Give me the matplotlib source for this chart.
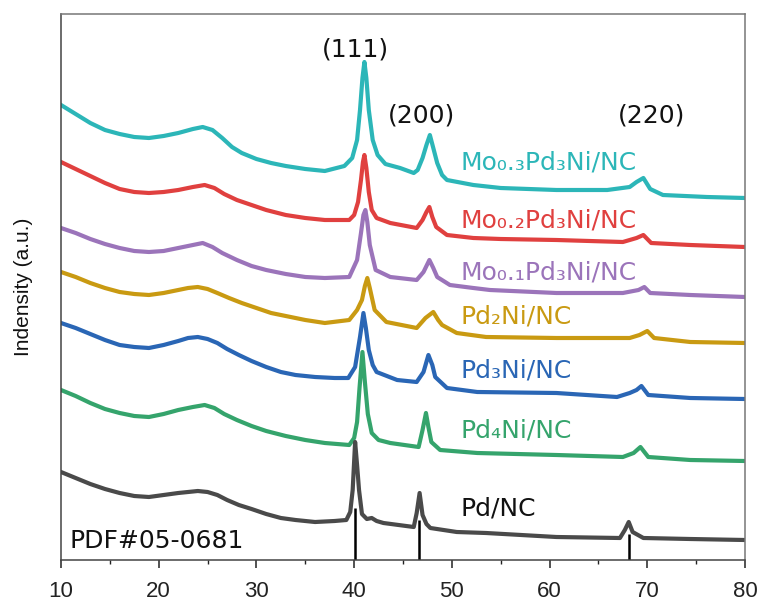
import matplotlib
matplotlib.use("Agg")
import matplotlib.pyplot as plt
from matplotlib.ticker import MultipleLocator

# ---------------- data (2theta in degrees, stacked intensity in a.u.) ----------------
x_mo03 = [10, 11.5, 13, 14.5, 16, 17.5, 19, 20.5, 22, 23.5, 24.5, 25.5, 26.5, 27.5, 28.5, 30, 31.5, 33, 35, 37,
          39.0, 39.8, 40.3, 40.6, 40.85, 41.05, 41.25, 41.5, 41.9, 42.4, 43.2, 44.7, 46.1, 46.5, 47.0, 47.4, 47.75,
          48.1, 48.5, 49.0, 49.5, 52.2, 55.0, 60.7, 65.9, 68.2, 68.9, 69.6, 70.3, 71.6, 76.1, 80]
y_mo03 = [455, 446, 437, 430, 426, 423, 422, 424, 427, 431, 433, 430, 422, 413, 407, 401, 397, 394, 391, 389,
          394, 402, 420, 450, 482, 498, 482, 450, 420, 405, 396, 392, 387, 390, 402, 415, 425,
          412, 397, 385, 380, 375, 372, 370, 370, 373, 378, 382, 371, 365, 363, 362]

x_mo02 = [10, 11.5, 13, 14.5, 16, 17.5, 19, 20.5, 22, 23.5, 24.7, 25.7, 26.7, 28, 29.5, 31, 33, 35, 37,
          39.5, 40.0, 40.4, 40.7, 40.9, 41.05, 41.25, 41.5, 41.8, 42.3, 43.7, 46.4, 47.0, 47.4, 47.7, 48.0, 48.4,
          49.5, 52.2, 55.0, 60.7, 67.5, 68.9, 69.6, 70.4, 74.4, 80]
y_mo02 = [398, 391, 384, 377, 371, 368, 367, 368, 370, 373, 375, 372, 366, 360, 355, 350, 345, 342, 340,
          340, 345, 358, 380, 398, 405, 392, 368, 350, 342, 337, 332, 340, 348, 353, 343, 333,
          325, 322, 321, 320, 318, 322, 325, 317, 315, 313]

x_mo01 = [10, 11.5, 13, 14.5, 16, 17.5, 19, 20.5, 22, 23.5, 24.5, 25.5, 26.5, 28, 29.5, 31, 33, 35, 37,
          39.5, 40.3, 40.7, 40.95, 41.15, 41.35, 41.6, 42.2, 43.7, 46.4, 47.1, 47.7, 48.1, 48.5, 49.8, 52.2,
          53.9, 60.7, 67.5, 69.1, 69.7, 70.3, 74.4, 80]
y_mo01 = [332, 327, 321, 316, 312, 309, 308, 309, 312, 315, 317, 313, 307, 300, 294, 290, 286, 283, 282,
          283, 300, 327, 345, 350, 338, 315, 290, 283, 280, 288, 300, 292, 283, 275, 272,
          270, 267, 267, 270, 273, 267, 265, 263]

x_pd2ni = [10, 11.5, 13, 14.5, 16, 17.5, 19, 20.5, 22, 23, 24, 25, 26, 27.2, 28.5, 30, 31.5, 33, 35, 37,
           39.5, 40.3, 40.8, 41.1, 41.35, 41.6, 42.1, 43.3, 46.4, 47.3, 48.1, 48.6, 49.0, 50.5, 53.5, 60.7,
           68.2, 69.2, 70.0, 70.7, 74.4, 80]
y_pd2ni = [288, 283, 277, 272, 268, 266, 265, 267, 270, 272, 273, 271, 267, 262, 257, 252, 247, 244, 240, 237,
           240, 250, 260, 274, 282, 272, 250, 238, 232, 242, 248, 240, 235, 227, 223, 222,
           222, 225, 229, 222, 218, 217]

x_pd3ni = [10, 11.5, 13, 14.5, 16, 17.5, 19, 20.5, 22, 23, 24, 25, 26, 27, 28.2, 29.5, 31, 32.5, 34, 36, 38,
           39.4, 40.1, 40.6, 40.95, 41.2, 41.5, 41.9, 42.3, 44.4, 46.4, 47.1, 47.6, 48.0, 48.3, 49.5, 52.6,
           60.7, 66.9, 68.2, 68.9, 69.4, 70.1, 74.4, 80]
y_pd3ni = [237, 232, 226, 220, 215, 213, 212, 215, 219, 222, 223, 221, 217, 211, 205, 199, 193, 188, 185, 183, 182,
           182, 193, 223, 247, 232, 210, 195, 188, 180, 178, 188, 205, 195, 183, 172, 168,
           167, 163, 167, 170, 174, 165, 162, 161]

x_pd4ni = [10, 11.5, 13, 14.5, 16, 17.5, 19, 20.5, 22, 23.5, 24.7, 25.7, 26.7, 28, 29.5, 31, 33, 35, 37,
           39.5, 40.0, 40.3, 40.55, 40.85, 41.1, 41.4, 41.8, 42.5, 43.7, 46.6, 47.0, 47.35, 47.6, 47.9, 48.8,
           52.6, 60.7, 67.5, 68.6, 69.3, 70.1, 74.4, 80]
y_pd4ni = [170, 164, 157, 151, 147, 144, 143, 146, 150, 153, 155, 152, 146, 140, 134, 129, 124, 120, 117,
           115, 122, 138, 172, 208, 178, 146, 127, 120, 117, 113, 130, 147, 133, 118, 110,
           107, 105, 103, 107, 113, 103, 100, 99]

x_pd = [10, 11.5, 13, 14.5, 16, 17.5, 19, 20.5, 22, 23, 24, 25, 26, 27, 28.2, 29.5, 31, 32.5, 34, 36, 38,
        39.2, 39.6, 39.85, 40.1, 40.3, 40.5, 40.8, 41.3, 41.8, 42.3, 43.0, 46.1, 46.4, 46.7, 47.0, 47.4, 47.8,
        50.5, 53.5, 60.7, 67.2, 67.7, 68.1, 68.5, 69.6, 74.4, 80]
y_pd = [88, 82, 76, 71, 67, 64, 63, 65, 67, 68, 69, 68, 65, 60, 55, 51, 46, 42, 40, 38, 39,
        40, 48, 70, 118, 95, 70, 46, 41, 42, 39, 37, 33, 47, 67, 45, 36, 32,
        28, 27, 23, 22, 30, 38, 28, 22, 21, 20]

# reference card PDF#05-0681
pdf_pos = [40.1, 46.65, 68.1]
pdf_int = [52, 40, 26]

series_labels = ["Mo\u2080.\u2083Pd\u2083Ni/NC", "Mo\u2080.\u2082Pd\u2083Ni/NC", "Mo\u2080.\u2081Pd\u2083Ni/NC",
                 "Pd\u2082Ni/NC", "Pd\u2083Ni/NC", "Pd\u2084Ni/NC", "Pd/NC"]
label_y = [391, 333, 280, 236, 182, 123, 45]
hkl_labels = ["(111)", "(200)", "(220)"]
hkl_x = [40.1, 46.85, 70.4]
hkl_y = [511, 445, 445]

colors = ["#2cb6b8", "#e0403f", "#9b74ba", "#c99a12", "#2a66b5", "#35a46c", "#4a4a4a"]
label_colors = colors[:6] + ["#111111"]

xs = [x_mo03, x_mo02, x_mo01, x_pd2ni, x_pd3ni, x_pd4ni, x_pd]
ys = [y_mo03, y_mo02, y_mo01, y_pd2ni, y_pd3ni, y_pd4ni, y_pd]

# ---------------- figure ----------------
fig = plt.figure(figsize=(7.6, 6.06), dpi=100)
ax = fig.add_axes([61 / 760, 1 - 560 / 606, (745 - 61) / 760, (560 - 14) / 606])

for x, y, c in zip(xs, ys, colors):
    ax.plot(x, y, color=c, lw=3.0, solid_joinstyle="round")

ax.vlines(pdf_pos, 0, pdf_int, color="black", lw=1.8)

lab_font = ["DejaVu Sans"]
for t, yy, c in zip(series_labels, label_y, label_colors):
    ax.text(50.9, yy, t, color=c, fontsize=18, family=lab_font, va="baseline", ha="left")

for t, xx, yy in zip(hkl_labels, hkl_x, hkl_y):
    ax.text(xx, yy, t, color="#111111", fontsize=18, family=lab_font, va="center", ha="center")

ax.text(10.9, 11.5, "PDF#05-0681", color="#111111", fontsize=18, family=lab_font, va="baseline", ha="left")

ax.set_xlim(10, 80)
ax.set_ylim(0, 546)
ax.xaxis.set_major_locator(MultipleLocator(10))
ax.xaxis.set_minor_locator(MultipleLocator(5))
ax.tick_params(axis="x", which="major", direction="out", length=6, width=1.1, pad=9,
               labelsize=16, colors="#222222")
ax.tick_params(axis="x", which="minor", direction="out", length=3, width=1.0, colors="#222222")
for lab in ax.get_xticklabels():
    lab.set_family(["Liberation Sans", "DejaVu Sans"])
ax.set_yticks([])

for s in ax.spines.values():
    s.set_color("#444444")
    s.set_linewidth(1.1)
ax.spines["top"].set_color("#777777")
ax.spines["right"].set_color("#777777")

ax.set_ylabel("Indensity (a.u.)", fontsize=15, family=["Liberation Sans", "DejaVu Sans"],
              labelpad=20, color="#111111")

fig.savefig("out.png", dpi=100)
